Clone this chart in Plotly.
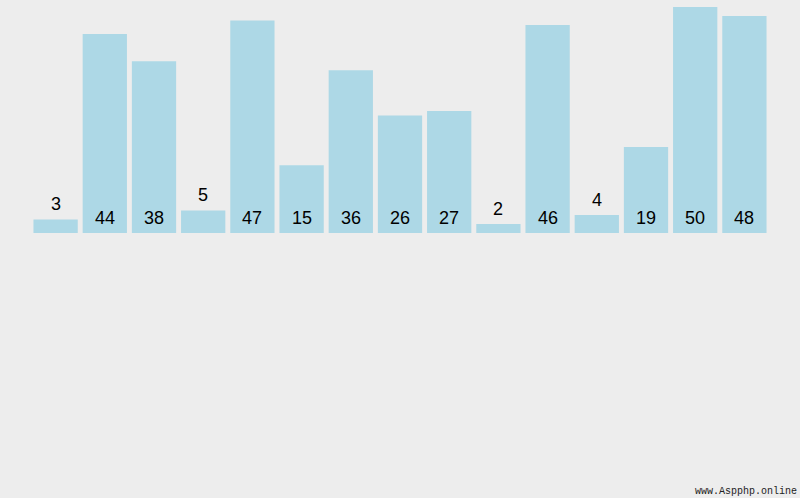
import plotly.graph_objects as go

values = [3, 44, 38, 5, 47, 15, 36, 26, 27, 2, 46, 4, 19, 50, 48]
positions = list(range(len(values)))
labels = [str(v) for v in values]
threshold = 10

fig = go.Figure(go.Bar(x=positions, y=values, marker=dict(color="#add8e6", line=dict(width=0)),
                       hoverinfo="skip"))

for x, v, t in zip(positions, values, labels):
    if v < threshold:
        fig.add_annotation(x=x, y=v, text=t, showarrow=False, yanchor="bottom", yshift=3,
                           font=dict(family="Liberation Sans, Arial", size=18, color="#000"))
    else:
        fig.add_annotation(x=x, y=0, text=t, showarrow=False, yanchor="bottom", yshift=3,
                           font=dict(family="Liberation Sans, Arial", size=18, color="#000"))

fig.add_annotation(xref="paper", yref="paper", x=1.041, y=-1.146, text="www.Aspphp.online",
                   showarrow=False, xanchor="right", yanchor="middle",
                   font=dict(family="Liberation Mono, DejaVu Sans Mono", size=10, color="#222"))

fig.update_layout(
    width=800, height=498,
    margin=dict(l=31, r=31, t=7, b=265),
    paper_bgcolor="#ededed", plot_bgcolor="#ededed",
    bargap=0.1,
    showlegend=False,
    xaxis=dict(range=[-0.5, 14.5], visible=False, fixedrange=True),
    yaxis=dict(range=[0, 50], visible=False, fixedrange=True),
)

fig.write_html("out.html", config={"displayModeBar": False},
               post_script="document.body.style.margin='0';document.body.style.background='#ededed';")
